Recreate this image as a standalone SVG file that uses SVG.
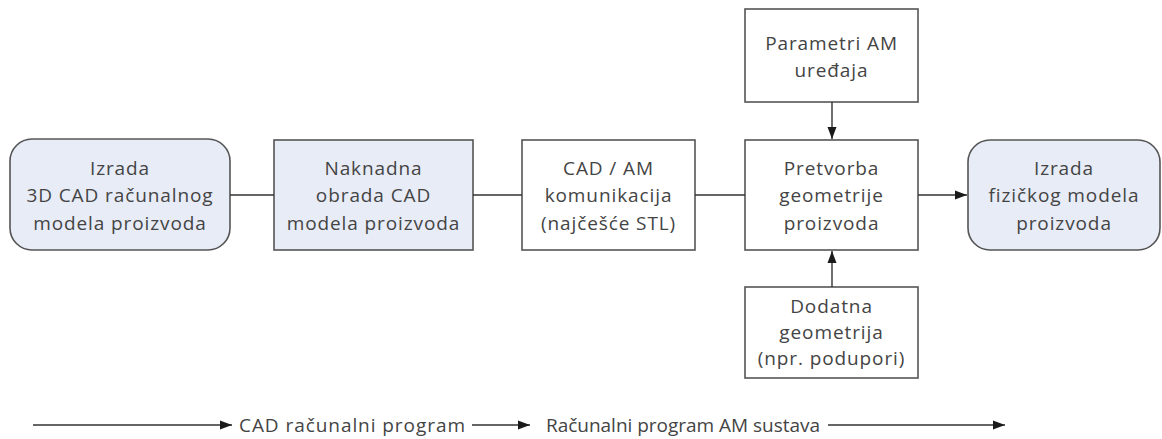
<svg xmlns="http://www.w3.org/2000/svg" width="1162" height="439" viewBox="0 0 1162 439">
<defs>
<marker id="ah" viewBox="0 0 12 10" refX="12" refY="5" markerWidth="12" markerHeight="10" markerUnits="userSpaceOnUse" orient="auto">
<path d="M0,0.5 L12,5 L0,9.5 z" fill="#1a1a1a"/>
</marker>
<style>
.box{stroke:#555;stroke-width:1.6;fill:#fff}
.blue{fill:#e8ecf7}
text{font-family:"Open Sans","Liberation Sans",sans-serif;font-size:19px;letter-spacing:0.9px;fill:#444;text-anchor:middle}
.lg{letter-spacing:0px}
.c{stroke:#333;stroke-width:1.4;fill:none}
</style>
</defs>
<rect width="1162" height="439" fill="#fff"/>
<g id="n1"><rect class="box blue" x="10" y="139" width="220" height="111" rx="22"/>
<text x="120" y="175">Izrada</text><text x="120" y="202">3D CAD računalnog</text><text x="120" y="230">modela proizvoda</text></g>
<g id="n2"><rect class="box blue" x="274" y="140" width="199" height="110"/>
<text x="373.5" y="175">Naknadna</text><text x="373.5" y="202">obrada CAD</text><text x="373.5" y="230">modela proizvoda</text></g>
<g id="n3"><rect class="box" x="522" y="140" width="173" height="110"/>
<text x="608.5" y="175">CAD / AM</text><text x="608.5" y="202">komunikacija</text><text x="608.5" y="230">(najčešće STL)</text></g>
<g id="n4"><rect class="box" x="745" y="140" width="173" height="110"/>
<text x="831.5" y="175">Pretvorba</text><text x="831.5" y="202">geometrije</text><text x="831.5" y="230">proizvoda</text></g>
<g id="n5"><rect class="box blue" x="968" y="140" width="192" height="110" rx="22"/>
<text x="1064" y="175">Izrada</text><text x="1064" y="202">fizičkog modela</text><text x="1064" y="230">proizvoda</text></g>
<g id="np"><rect class="box" x="745" y="9" width="173" height="93"/>
<text x="831.5" y="50">Parametri AM</text><text x="831.5" y="77">uređaja</text></g>
<g id="nd"><rect class="box" x="745" y="287" width="173" height="91"/>
<text x="831.5" y="313">Dodatna</text><text x="831.5" y="339">geometrija</text><text x="831.5" y="365">(npr. podupori)</text></g>
<g id="connectors">
<line class="c" x1="230" y1="195" x2="274" y2="195"/>
<line class="c" x1="473" y1="195" x2="522" y2="195"/>
<line class="c" x1="695" y1="195" x2="745" y2="195"/>
<line class="c" x1="918" y1="195" x2="967" y2="195" marker-end="url(#ah)"/>
<line class="c" x1="832" y1="102" x2="832" y2="139" marker-end="url(#ah)"/>
<line class="c" x1="832" y1="287" x2="832" y2="251" marker-end="url(#ah)"/>
<line class="c" x1="33" y1="425" x2="232" y2="425" marker-end="url(#ah)"/>
<line class="c" x1="472" y1="425" x2="530" y2="425" marker-end="url(#ah)"/>
<line class="c" x1="828" y1="425" x2="1005" y2="425" marker-end="url(#ah)"/>
</g>
<g id="legend">
<text class="lg" x="352" y="432" textLength="226" lengthAdjust="spacing">CAD računalni program</text>
<text class="lg" x="683" y="432" textLength="274" lengthAdjust="spacing">Računalni program AM sustava</text>
</g>
</svg>
